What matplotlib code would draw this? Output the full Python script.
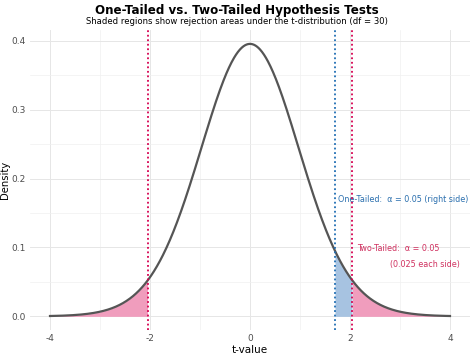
import math
import numpy as np
import matplotlib
matplotlib.use("Agg")
import matplotlib.pyplot as plt

# t-distribution settings
df = 30
t_min, t_max = -4, 4
alpha = 0.05
t_one = 1.697    # one-tailed critical value (right side)
t_two = 2.042    # two-tailed critical value

x_ticks = [-4, -2, 0, 2, 4]
y_ticks = [0.0, 0.1, 0.2, 0.3, 0.4]


def t_pdf(x, nu):
    c = math.exp(math.lgamma((nu + 1) / 2) - math.lgamma(nu / 2)) / math.sqrt(nu * math.pi)
    return c * (1 + x ** 2 / nu) ** (-(nu + 1) / 2)


t = np.linspace(t_min, t_max, 801)
dens = t_pdf(t, df)

fig = plt.figure(figsize=(4.74, 3.55), dpi=100)
ax = fig.add_axes([30 / 474, 25 / 355, 440 / 474, 300 / 355])

pink = "#f09dbd"
blue = "#a7c3e1"
red_line = "#d6004f"
blue_line = "#1f6db3"

left = t <= -t_two
right = t >= t_two
mid = (t >= t_one) & (t <= t_two)
ax.fill_between(t[left], 0, dens[left], color=pink, lw=0)
ax.fill_between(t[right], 0, dens[right], color=pink, lw=0)
ax.fill_between(t[mid], 0, dens[mid], color=blue, lw=0)

ax.plot(t, dens, color="#555555", lw=1.6, zorder=3)

for xv, col in [(-t_two, red_line), (t_two, red_line), (t_one, blue_line)]:
    ax.axvline(xv, color=col, ls=(0, (1, 1.5)), lw=1.3, zorder=4)

ax.text(1.76, 0.170, "One-Tailed:  α = 0.05 (right side)", color="#2a6fae",
        fontsize=5.8, va="center", ha="left")
ax.text(2.14, 0.099, "Two-Tailed:  α = 0.05", color="#d0305f",
        fontsize=5.8, va="center", ha="left")
ax.text(2.8, 0.076, "(0.025 each side)", color="#d0305f",
        fontsize=5.8, va="center", ha="left")

ax.set_xlim(-4.4, 4.4)
ax.set_ylim(-0.0198, 0.4158)
ax.set_xticks(x_ticks)
ax.set_xticklabels([str(v) for v in x_ticks])
ax.set_yticks(y_ticks)
ax.set_yticklabels([f"{v:.1f}" for v in y_ticks])
ax.set_xticks([-3, -1, 1, 3], minor=True)
ax.set_yticks([0.05, 0.15, 0.25, 0.35], minor=True)
ax.grid(which="major", color="#e6e6e6", lw=0.7)
ax.grid(which="minor", color="#f0f0f0", lw=0.5)
ax.set_axisbelow(True)
for s in ax.spines.values():
    s.set_visible(False)
ax.tick_params(which="both", length=0, labelsize=6.5, colors="#4d4d4d", pad=3)

ax.set_xlabel("t-value", fontsize=7.5)
ax.set_ylabel("Density", fontsize=7.2)
ax.xaxis.set_label_coords(0.5, -0.05)
ax.yaxis.set_label_coords(-0.046, 0.5)

fig.text(0.5, 0.99, "One-Tailed vs. Two-Tailed Hypothesis Tests", ha="center",
         va="top", fontsize=8.6, fontweight="bold")
fig.text(0.5, 0.952, "Shaded regions show rejection areas under the t-distribution (df = 30)",
         ha="center", va="top", fontsize=6.1)

fig.savefig("out.png", dpi=100)
